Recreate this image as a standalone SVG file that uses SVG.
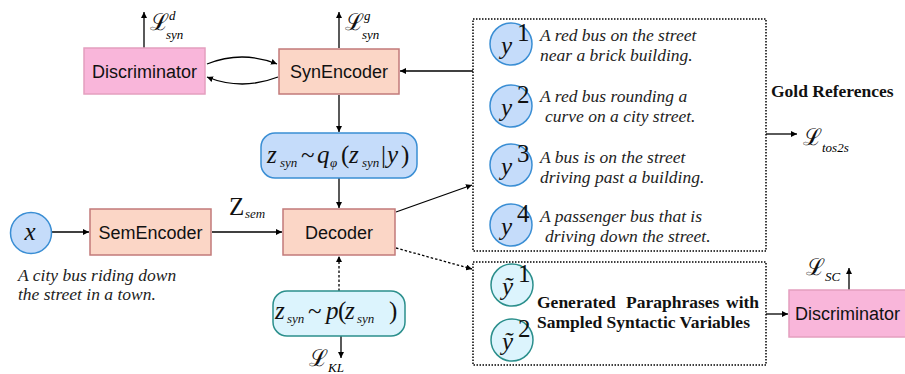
<svg xmlns="http://www.w3.org/2000/svg" width="905" height="374" viewBox="0 0 905 374">
<defs>
<marker id="ah" viewBox="0 0 10 10" refX="10" refY="5" markerWidth="6" markerHeight="6" markerUnits="userSpaceOnUse" orient="auto">
<path d="M0,0 L10,5 L0,10 z" fill="#000"/>
</marker>
</defs>
<style>
.disc{fill:#f9b6da;stroke:#e49fbf;stroke-width:1.5}
.enc{fill:#fbd6c6;stroke:#c27a7a;stroke-width:1.5}
.blu{fill:#c5dcfa;stroke:#3a8ed4;stroke-width:1.5}
.tea{fill:#dcf4fd;stroke:#2b8f8c;stroke-width:1.5}
.lbl{font-family:"Liberation Sans",Arial,sans-serif;font-size:18px;fill:#111}
.mid{text-anchor:middle}
.it{font-family:"Liberation Serif","Times New Roman",serif;font-style:italic;font-size:17.5px;fill:#222}
.bd{font-family:"Liberation Serif","Times New Roman",serif;font-weight:bold;font-size:17.5px;fill:#111}
.m{font-family:"Liberation Serif","Times New Roman",serif;font-size:25px;fill:#111}
.mi{font-style:italic}
.sub{font-size:13px;font-style:italic}
.L{font-family:"DejaVu Serif","Liberation Serif",serif;font-size:23px;fill:#111}
.ls{font-family:"Liberation Serif","Times New Roman",serif;font-style:italic;font-size:13px}
.ln{fill:none;stroke:#000;stroke-width:1.3}
.dot{fill:none;stroke:#000;stroke-width:1.5;stroke-dasharray:1.5 1.5}
.dl{fill:none;stroke:#000;stroke-width:1.3;stroke-dasharray:2.5 2}
</style>

<g id="connectors">
<line class="ln" x1="144" y1="48" x2="144" y2="12" marker-end="url(#ah)"/>
<line class="ln" x1="339" y1="48" x2="339" y2="12" marker-end="url(#ah)"/>
<path class="ln" d="M207,64 Q242,50 277,64" marker-end="url(#ah)"/>
<path class="ln" d="M278,77 Q242,91 207,77" marker-end="url(#ah)"/>
<line class="ln" x1="473" y1="71" x2="400" y2="71" marker-end="url(#ah)"/>
<line class="ln" x1="339" y1="95" x2="339" y2="132" marker-end="url(#ah)"/>
<line class="ln" x1="339" y1="178" x2="339" y2="208" marker-end="url(#ah)"/>
<line class="ln" x1="52" y1="232" x2="89" y2="232" marker-end="url(#ah)"/>
<line class="ln" x1="212" y1="232" x2="282" y2="232" marker-end="url(#ah)"/>
<line class="dl" x1="339" y1="291" x2="339" y2="256" marker-end="url(#ah)"/>
<line class="ln" x1="341" y1="336" x2="341" y2="358" marker-end="url(#ah)"/>
<line class="ln" x1="396" y1="212" x2="472" y2="185" marker-end="url(#ah)"/>
<line class="dl" x1="396" y1="248" x2="472" y2="269" marker-end="url(#ah)"/>
<line class="ln" x1="766" y1="134" x2="797" y2="134" marker-end="url(#ah)"/>
<line class="ln" x1="766" y1="314" x2="788" y2="314" marker-end="url(#ah)"/>
<line class="ln" x1="849" y1="290" x2="849" y2="268" marker-end="url(#ah)"/>
</g>

<g id="discriminator1">
<rect class="disc" x="84" y="48" width="121" height="46"/>
<text class="lbl mid" x="144.5" y="78">Discriminator</text>
</g>
<g id="synencoder">
<rect class="enc" x="279" y="49" width="120" height="45"/>
<text class="lbl mid" x="339" y="78">SynEncoder</text>
</g>
<g id="qdist">
<rect class="blu" x="261" y="133" width="156" height="45" rx="14"/>
<text class="m"><tspan class="mi" x="267" y="163">z</tspan><tspan class="sub" x="280" y="167">syn</tspan><tspan x="301" y="163">~</tspan><tspan class="mi" x="317" y="163">q</tspan><tspan class="sub" x="330" y="167">φ</tspan><tspan x="341" y="163">(</tspan><tspan class="mi" x="349" y="163">z</tspan><tspan class="sub" x="362" y="167">syn</tspan><tspan x="381" y="163">|</tspan><tspan class="mi" x="387" y="163">y</tspan><tspan x="401" y="163">)</tspan></text>
</g>
<g id="x-input">
<circle class="blu" cx="31" cy="233" r="20.5"/>
<text class="m mi mid" x="30" y="240" font-size="30">x</text>
<text class="it"><tspan x="18" y="281">A city bus riding down</tspan><tspan x="18" y="300">the street in a town.</tspan></text>
</g>
<g id="semencoder">
<rect class="enc" x="90" y="209" width="121" height="46"/>
<text class="lbl mid" x="150.5" y="239">SemEncoder</text>
</g>
<g id="zsem-label">
<text class="m" font-size="23"><tspan x="229" y="215">Z</tspan><tspan class="sub" x="245" y="218">sem</tspan></text>
</g>
<g id="decoder">
<rect class="enc" x="283" y="209" width="112" height="46"/>
<text class="lbl mid" x="339" y="239">Decoder</text>
</g>
<g id="pdist">
<rect class="tea" x="273" y="291" width="132" height="45" rx="14"/>
<text class="m"><tspan class="mi" x="275" y="319">z</tspan><tspan class="sub" x="287" y="323">syn</tspan><tspan x="308" y="319">~</tspan><tspan class="mi" x="326" y="319">p</tspan><tspan x="338" y="319">(</tspan><tspan class="mi" x="345" y="319">z</tspan><tspan class="sub" x="357" y="323">syn</tspan><tspan x="389" y="319">)</tspan></text>
</g>
<g id="loss-labels">
<text class="L" x="150" y="30">ℒ</text><text class="ls" x="169" y="20">d</text><text class="ls" x="166" y="39">syn</text>
<text class="L" x="345" y="30">ℒ</text><text class="ls" x="364" y="20">g</text><text class="ls" x="362" y="39">syn</text>
<text class="L" x="309" y="366">ℒ</text><text class="ls" x="328" y="372">KL</text>
<text class="L" x="803" y="145">ℒ</text><text class="ls" x="822" y="152">tos2s</text>
<text class="L" x="806" y="275">ℒ</text><text class="ls" x="825" y="281">SC</text>
</g>
<g id="gold-references">
<rect class="dot" x="473" y="19" width="293" height="232"/>
<circle class="blu" cx="511" cy="44" r="21"/>
<text class="m mi" x="501" y="54" font-size="31">y</text><text class="m" x="517" y="41" font-size="17">1</text>
<text class="it"><tspan x="540" y="41">A red bus on the street</tspan><tspan x="540" y="61">near a brick building.</tspan></text>
<circle class="blu" cx="511" cy="106" r="21"/>
<text class="m mi" x="501" y="116" font-size="31">y</text><text class="m" x="517" y="103" font-size="17">2</text>
<text class="it"><tspan x="540" y="102">A red bus rounding a</tspan><tspan x="545" y="122">curve on a city street.</tspan></text>
<circle class="blu" cx="511" cy="165" r="21"/>
<text class="m mi" x="501" y="175" font-size="31">y</text><text class="m" x="517" y="162" font-size="17">3</text>
<text class="it"><tspan x="540" y="163">A bus is on the street</tspan><tspan x="540" y="183">driving past a building.</tspan></text>
<circle class="blu" cx="511" cy="225" r="21"/>
<text class="m mi" x="501" y="235" font-size="31">y</text><text class="m" x="517" y="222" font-size="17">4</text>
<text class="it"><tspan x="540" y="222">A passenger bus that is</tspan><tspan x="545" y="242">driving down the street.</tspan></text>
<text class="bd" x="771" y="97">Gold References</text>
</g>
<g id="generated">
<rect class="dot" x="473" y="262" width="293" height="103"/>
<circle class="tea" cx="512" cy="285" r="21"/>
<text class="m mi" x="502" y="295" font-size="31">ỹ</text><text class="m" x="518" y="282" font-size="17">1</text>
<circle class="tea" cx="512" cy="340" r="21"/>
<text class="m mi" x="502" y="350" font-size="31">ỹ</text><text class="m" x="518" y="337" font-size="17">2</text>
<text class="bd"><tspan x="537" y="308">Generated</tspan><tspan x="626" y="308">Paraphrases</tspan><tspan x="726" y="308">with</tspan><tspan x="537" y="328">Sampled Syntactic Variables</tspan></text>
</g>
<g id="discriminator2">
<rect class="disc" x="789" y="290" width="122" height="47"/>
<text class="lbl" x="795" y="320">Discriminator</text>
</g>
</svg>
